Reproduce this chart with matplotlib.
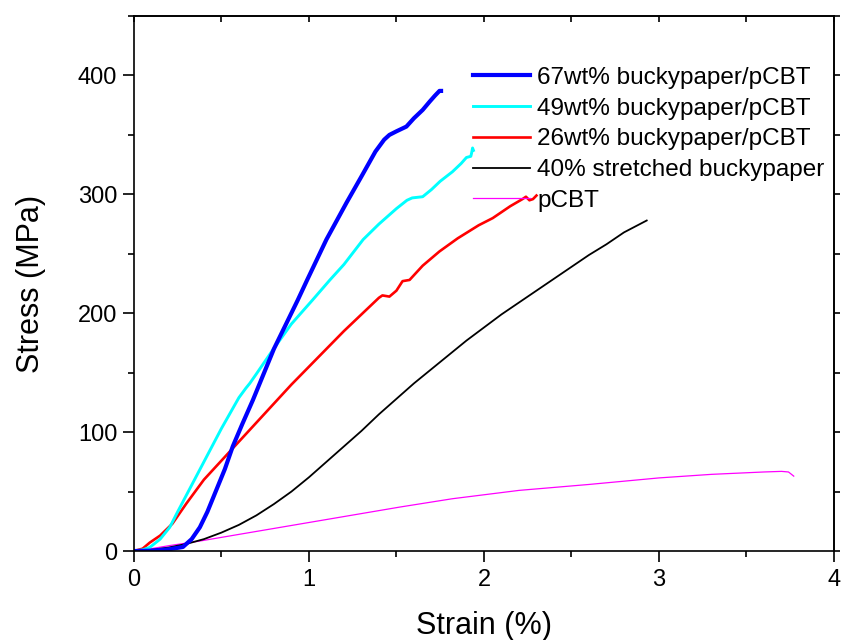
"""
Stress-strain curves: buckypaper/pCBT composites vs stretched buckypaper and pCBT.
"""

import matplotlib
matplotlib.use("Agg")
import matplotlib.pyplot as plt
from matplotlib.ticker import MultipleLocator

# ---- data (strain in %, stress in MPa) ----
BP67_STRAIN = [0, 0.1, 0.2, 0.28, 0.33, 0.377, 0.42, 0.47, 0.52, 0.565, 0.62, 0.68,
               0.8, 0.936, 0.99, 1.1, 1.215, 1.3, 1.38, 1.43, 1.46, 1.5, 1.557,
               1.6, 1.65, 1.69, 1.72, 1.746, 1.755]
BP67_STRESS = [0, 0.3, 1.5, 3.4, 10, 20, 33, 51, 69, 88, 107, 127,
               170, 211, 228, 262, 293, 315, 336, 346, 350, 353, 357,
               364, 371, 378, 383, 387, 387]

BP49_STRAIN = [0, 0.05, 0.09, 0.15, 0.205, 0.25, 0.3, 0.35, 0.4, 0.45, 0.5, 0.55,
               0.6, 0.64, 0.662, 0.7, 0.793, 0.9, 1.02, 1.12, 1.2, 1.31, 1.4,
               1.5, 1.56, 1.59, 1.65, 1.7, 1.75, 1.82, 1.87, 1.9, 1.925, 1.93,
               1.935, 1.94]
BP49_STRESS = [0, 1, 3, 10, 20, 33, 47, 61, 75, 89, 103, 116,
               129, 137, 141, 149, 169, 191, 211, 228, 241, 262, 275,
               288, 295, 297, 298, 304, 311, 319, 326, 331, 332, 335,
               339, 337]

BP26_STRAIN = [0, 0.05, 0.09, 0.15, 0.22, 0.3, 0.4, 0.5, 0.6, 0.7, 0.8, 0.9,
               1.0, 1.1, 1.2, 1.3, 1.4, 1.42, 1.46, 1.5, 1.535, 1.575, 1.65,
               1.746, 1.85, 1.97, 2.05, 2.15, 2.22, 2.24, 2.26, 2.28, 2.3]
BP26_STRESS = [0, 2, 7, 13, 23, 40, 60, 76, 92, 108, 124, 140,
               155, 170, 185, 199, 213, 215, 214, 219, 227, 228, 240,
               252, 263, 274, 280, 290, 296, 298, 295, 296, 299]

BUCKY_STRAIN = [0, 0.1, 0.2, 0.3, 0.4, 0.5, 0.6, 0.7, 0.8, 0.9, 1.0, 1.1,
                1.2, 1.3, 1.4, 1.5, 1.6, 1.7, 1.8, 1.9, 2.0, 2.1, 2.2,
                2.3, 2.4, 2.5, 2.6, 2.7, 2.8, 2.93]
BUCKY_STRESS = [0, 1, 3, 6, 10, 15.5, 22, 30, 39.5, 50, 62, 75,
                88, 101, 115, 128, 141, 153, 165, 177, 188, 199, 209,
                219, 229, 239, 249, 258, 268, 278]

PCBT_STRAIN = [0, 0.1, 0.2, 0.377, 0.6, 1.0, 1.52, 1.82, 2.2, 2.6, 3.0, 3.3,
               3.6, 3.7, 3.74, 3.77]
PCBT_STRESS = [0, 2, 4.5, 8.4, 14, 24, 37, 44, 51, 56, 61.5, 64.5,
               66.5, 67, 66.5, 63]

LABELS = ["67wt% buckypaper/pCBT", "49wt% buckypaper/pCBT", "26wt% buckypaper/pCBT",
          "40% stretched buckypaper", "pCBT"]


def setup_axes(ax):
    ax.set_xlim(0, 4)
    ax.set_ylim(0, 450)
    ax.xaxis.set_major_locator(MultipleLocator(1))
    ax.xaxis.set_minor_locator(MultipleLocator(0.5))
    ax.yaxis.set_major_locator(MultipleLocator(100))
    ax.yaxis.set_minor_locator(MultipleLocator(50))
    for side in ax.spines.values():
        side.set_linewidth(1.2)

    # bottom/left ticks point out, top inward, right outward (as in the original)
    ax.tick_params(which="both", direction="out", width=1.2, labelsize=17)
    ax.tick_params(which="major", length=8)
    ax.tick_params(which="minor", length=4.5)
    ax.tick_params(axis="x", which="major", pad=5)
    ax.tick_params(axis="y", which="major", pad=4)

    top = ax.secondary_xaxis("top")
    top.xaxis.set_major_locator(MultipleLocator(1))
    top.xaxis.set_minor_locator(MultipleLocator(0.5))
    top.tick_params(which="both", direction="in", length=4, width=1.2,
                    labeltop=False)
    top.spines["top"].set_linewidth(1.2)

    right = ax.secondary_yaxis("right")
    right.yaxis.set_major_locator(MultipleLocator(100))
    right.yaxis.set_minor_locator(MultipleLocator(50))
    right.tick_params(which="both", direction="out", length=4, width=1.2,
                      labelright=False)
    right.spines["right"].set_linewidth(1.2)


def main():
    plt.rcParams["font.family"] = ["Liberation Sans", "DejaVu Sans"]

    fig = plt.figure(figsize=(8.42, 6.4), dpi=100)
    ax = fig.add_axes([0.159, 0.139, 0.8315, 0.836])

    ax.plot(PCBT_STRAIN, PCBT_STRESS, color="#ff00ff", lw=0.9, label=LABELS[4])
    ax.plot(BUCKY_STRAIN, BUCKY_STRESS, color="black", lw=1.3, label=LABELS[3])
    ax.plot(BP26_STRAIN, BP26_STRESS, color="#ff0000", lw=1.9, label=LABELS[2])
    ax.plot(BP49_STRAIN, BP49_STRESS, color="#00ffff", lw=2.1, label=LABELS[1])
    ax.plot(BP67_STRAIN, BP67_STRESS, color="#0000ff", lw=3.0, label=LABELS[0])

    setup_axes(ax)

    ax.set_xlabel("Strain (%)", fontsize=22, labelpad=14)
    ax.set_ylabel("Stress (MPa)", fontsize=22, labelpad=23)

    # legend order: 67, 49, 26, stretched, pCBT
    handles, labels = ax.get_legend_handles_labels()
    order = [labels.index(name) for name in LABELS]
    ax.legend([handles[i] for i in order], [labels[i] for i in order],
              loc="upper left", bbox_to_anchor=(0.484, 0.905), frameon=False,
              fontsize=17.5, handlelength=2.35, handletextpad=0.3,
              labelspacing=0.36, borderpad=0, borderaxespad=0)

    fig.savefig("out.png", dpi=100)
    plt.close(fig)


if __name__ == "__main__":
    main()
